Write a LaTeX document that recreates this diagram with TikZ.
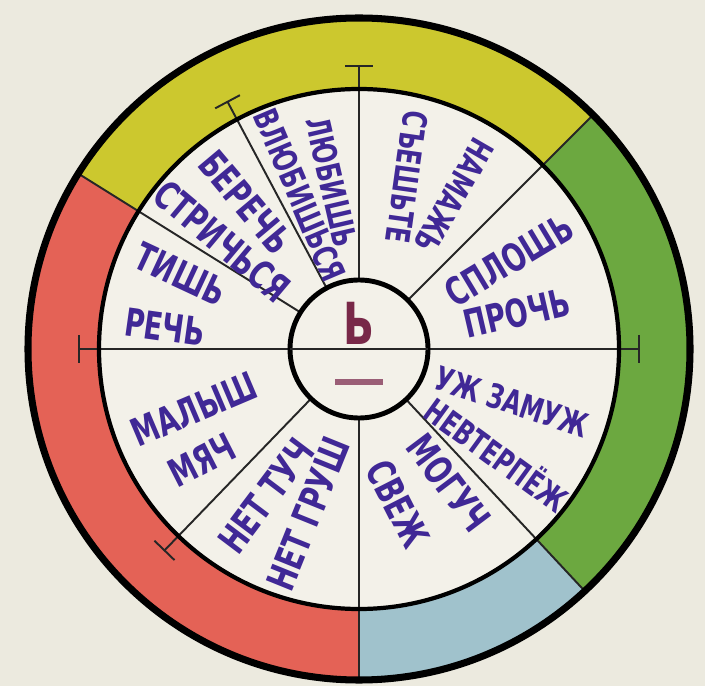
\documentclass[tikz,border=0pt]{standalone}
\usepackage{fontspec}
\newfontfamily\poster{DejaVu Sans}[FakeStretch=0.7]
\definecolor{paper}{RGB}{236,234,223}
\definecolor{sheet}{RGB}{243,241,233}
\definecolor{ringyellow}{RGB}{204,200,46}
\definecolor{ringred}{RGB}{228,98,86}
\definecolor{ringblue}{RGB}{160,194,204}
\definecolor{ringgreen}{RGB}{108,168,64}
\definecolor{ink}{RGB}{64,40,150}
\definecolor{maroon}{RGB}{120,40,72}

\tikzset{
  word/.style={text=ink, inner sep=0pt, font=\poster\bfseries\fontsize{22}{22}\selectfont},
  smallword/.style={word, font=\poster\bfseries\fontsize{19}{19}\selectfont},
  divider/.style={line width=1.1pt, black!85},
}

\begin{document}
\begin{tikzpicture}
\fill[paper] (-7.18,-6.74) rectangle (6.92,6.98);
\useasboundingbox (-7.18,-6.74) rectangle (6.92,6.98);

% coloured ring
\foreach \a/\b/\c in {45/148/ringyellow, 148/270/ringred, 270/313/ringblue, -47/45/ringgreen}
  \fill[\c] (\a:5.2) arc[start angle=\a, end angle=\b, radius=5.2]
    -- (\b:6.62) arc[start angle=\b, end angle=\a, radius=6.62] -- cycle;
\fill[sheet] (0,0) circle (5.2);

% dividers
\foreach \a in {148,270,313,45}
  \draw[divider] (\a:1.38) -- (\a:6.62);
\foreach \a/\r in {90/5.66, 118/5.6, 226/5.6}
  \draw[divider] (\a:1.38) -- (\a:\r)
    ([shift={(\a+90:0.28)}]\a:\r) -- ([shift={(\a-90:0.28)}]\a:\r);
\draw[divider] (180:5.6) -- (0:5.6);
\foreach \a in {0,180}
  \draw[divider] ([shift={(\a+90:0.28)}]\a:5.6) -- ([shift={(\a-90:0.28)}]\a:5.6);

\draw[line width=2.4pt] (0,0) circle (5.2);
\draw[line width=4pt] (0,0) circle (6.62);
\draw[line width=2.8pt, fill=sheet] (0,0) circle (1.38);
\draw[divider] (180:1.38) -- (0:1.38);

% centre
\node[text=maroon, font=\poster\bfseries\fontsize{33}{33}\selectfont] (soft) at (0,0.52) {Ь};
\coordinate (dashL) at (-0.48,-0.66);
\coordinate (dashR) at (0.48,-0.66);
\draw[maroon!75!white, line width=3.4pt] (dashL) -- (dashR);

% words
\node[word, rotate=-25] (tish) at (-3.56,1.5) {ТИШЬ};
\node[word, rotate=-8] (rech) at (-3.88,0.44) {РЕЧЬ};
\node[word, rotate=-50] (berech) at (-2.26,2.94) {БЕРЕЧЬ};
\node[word, rotate=-40] (strich) at (-2.74,2.16) {СТРИЧЬСЯ};
\node[smallword, rotate=-67] (vlyub) at (-1.18,3.08) {ВЛЮБИШЬСЯ};
\node[smallword, rotate=-77] (lyub) at (-0.54,3.34) {ЛЮБИШЬ};
\node[smallword, rotate=-98] (sesh) at (0.96,3.44) {СЪЕШЬТЕ};
\node[smallword, rotate=-120] (namazh) at (1.9,3.06) {НАМАЖЬ};
\node[word, rotate=31] (splosh) at (3.0,1.78) {СПЛОШЬ};
\node[word, rotate=13] (proch) at (3.16,0.72) {ПРОЧЬ};
\node[smallword, rotate=-18] (zamuzh) at (3.06,-1.06) {УЖ ЗАМУЖ};
\node[smallword, rotate=-36] (nevter) at (2.78,-2.08) {НЕВТЕРПЁЖ};
\node[word, rotate=-53] (moguch) at (1.8,-2.68) {МОГУЧ};
\node[word, rotate=-63] (svezh) at (0.78,-3.1) {СВЕЖ};
\node[word, rotate=53] (tuch) at (-1.86,-2.94) {НЕТ ТУЧ};
\node[word, rotate=68] (grush) at (-1.02,-3.3) {НЕТ ГРУШ};
\node[word, rotate=23] (malysh) at (-3.3,-1.2) {МАЛЫШ};
\node[word, rotate=27] (myach) at (-3.14,-2.22) {МЯЧ};
\end{tikzpicture}
\end{document}
